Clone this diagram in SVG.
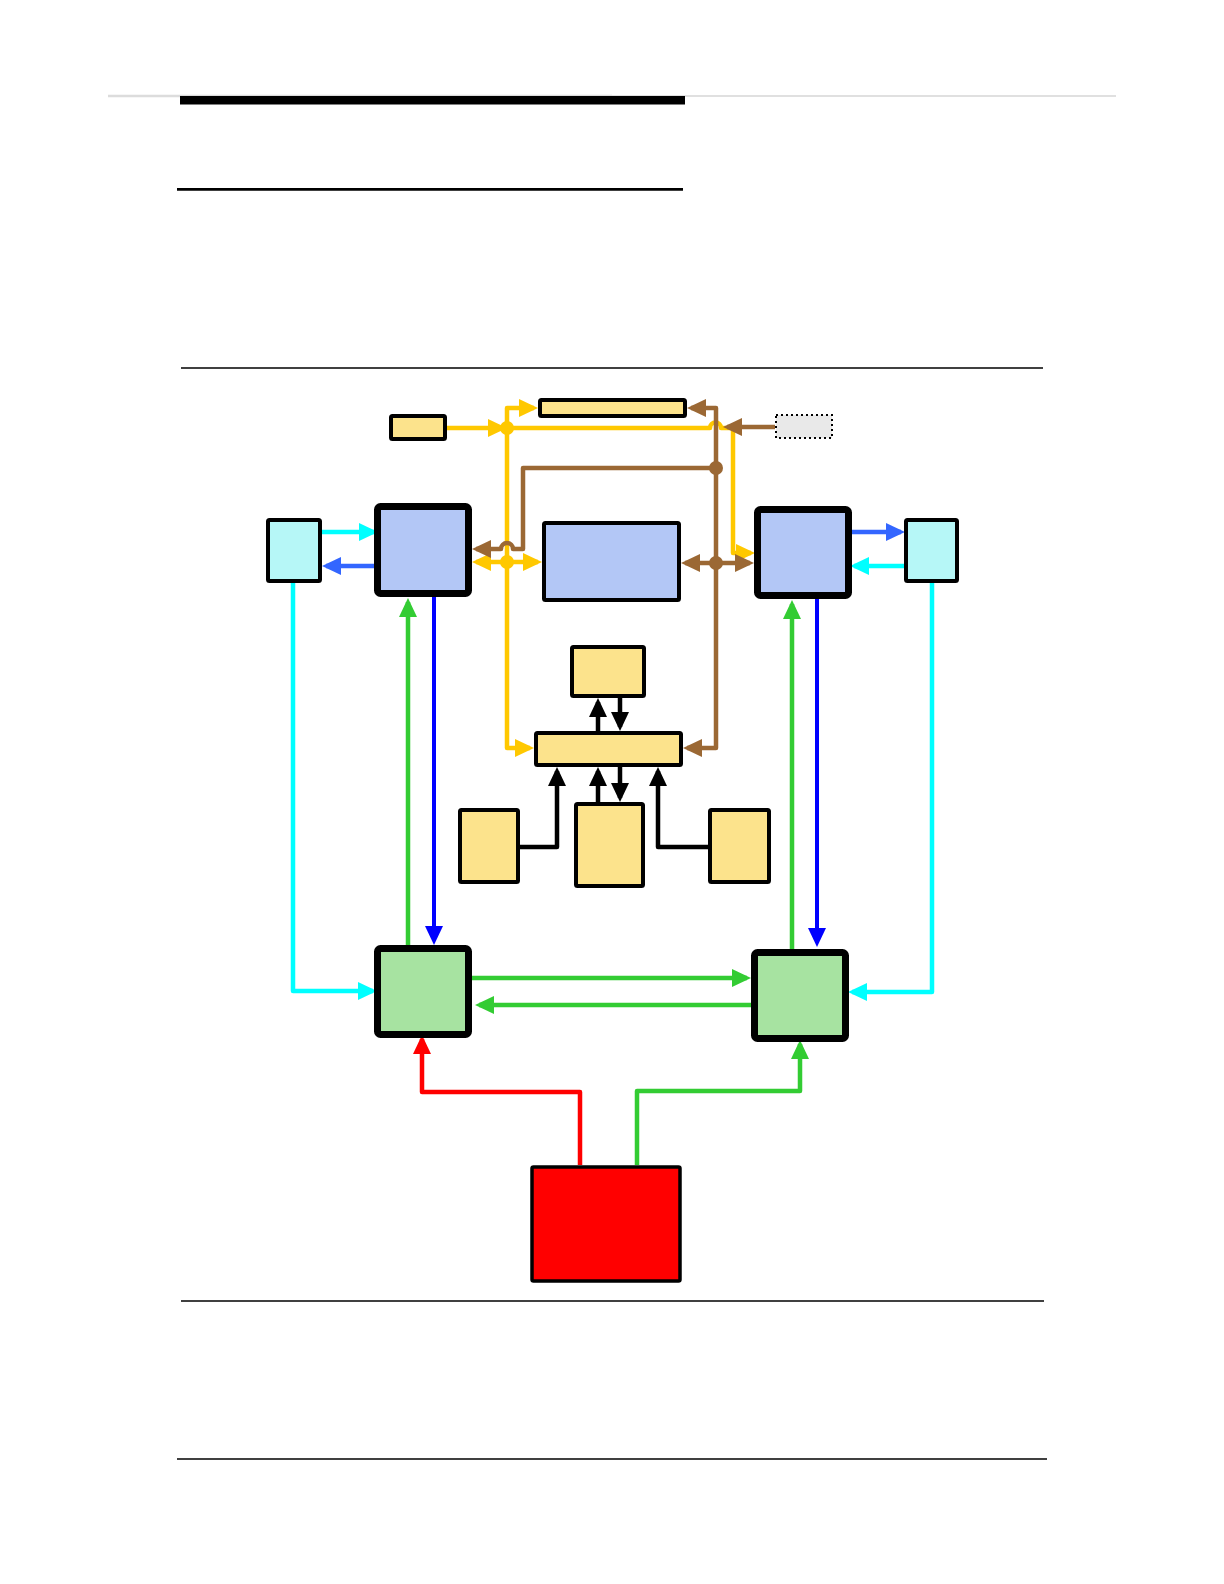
<svg xmlns="http://www.w3.org/2000/svg" width="1224" height="1584" viewBox="0 0 1224 1584">
<style>
.yel{fill:#FCE38C;stroke:#000;stroke-width:4}
.blu{fill:#B3C7F6;stroke:#000}
.cya{fill:#B6F7F7;stroke:#000;stroke-width:4}
.grn{fill:#A7E3A1;stroke:#000;stroke-width:7}
.thick{stroke-width:7}
.c{fill:none;stroke-width:4.5;stroke-linejoin:round}
.cy{stroke:#FFC800}.cb{stroke:#9B6834}.cc{stroke:#00FFFF}.crb{stroke:#3366FF}.cdb{stroke:#0000FF;stroke-width:4}.cg{stroke:#33CC33}.cr{stroke:#FF0000}.ck{stroke:#000}
.rule{stroke:#000;fill:none}
</style>
<defs>
<marker id="aY" viewBox="0 0 19 18" refX="15" refY="9" markerWidth="19" markerHeight="18" markerUnits="userSpaceOnUse" orient="auto-start-reverse"><path d="M0,0 L19,9 L0,18 z" fill="#FFC800"/></marker>
<marker id="aB" viewBox="0 0 19 18" refX="15" refY="9" markerWidth="19" markerHeight="18" markerUnits="userSpaceOnUse" orient="auto-start-reverse"><path d="M0,0 L19,9 L0,18 z" fill="#9B6834"/></marker>
<marker id="aC" viewBox="0 0 19 18" refX="15" refY="9" markerWidth="19" markerHeight="18" markerUnits="userSpaceOnUse" orient="auto-start-reverse"><path d="M0,0 L19,9 L0,18 z" fill="#00FFFF"/></marker>
<marker id="aRB" viewBox="0 0 19 18" refX="15" refY="9" markerWidth="19" markerHeight="18" markerUnits="userSpaceOnUse" orient="auto-start-reverse"><path d="M0,0 L19,9 L0,18 z" fill="#3366FF"/></marker>
<marker id="aDB" viewBox="0 0 19 18" refX="15" refY="9" markerWidth="19" markerHeight="18" markerUnits="userSpaceOnUse" orient="auto-start-reverse"><path d="M0,0 L19,9 L0,18 z" fill="#0000FF"/></marker>
<marker id="aG" viewBox="0 0 19 18" refX="15" refY="9" markerWidth="19" markerHeight="18" markerUnits="userSpaceOnUse" orient="auto-start-reverse"><path d="M0,0 L19,9 L0,18 z" fill="#33CC33"/></marker>
<marker id="aR" viewBox="0 0 19 18" refX="15" refY="9" markerWidth="19" markerHeight="18" markerUnits="userSpaceOnUse" orient="auto-start-reverse"><path d="M0,0 L19,9 L0,18 z" fill="#FF0000"/></marker>
<marker id="aK" viewBox="0 0 19 18" refX="15" refY="9" markerWidth="19" markerHeight="18" markerUnits="userSpaceOnUse" orient="auto-start-reverse"><path d="M0,0 L19,9 L0,18 z" fill="#000"/></marker>
</defs>
<rect width="1224" height="1584" fill="#fff"/>
<g id="page-rules">
<line x1="108" y1="96" x2="612" y2="96" stroke="#dcdcdc" stroke-width="2.5"/>
<line x1="612" y1="96" x2="1116" y2="96" stroke="#d6d6d6" stroke-width="1.5"/>
<rect x="180" y="96" width="505" height="8.5" fill="#000"/>
<line class="rule" x1="177" y1="189.3" x2="683" y2="189.3" stroke-width="2.7"/>
<line class="rule" x1="181" y1="368" x2="1043" y2="368" stroke-width="1.3"/>
<line class="rule" x1="181" y1="1301" x2="1044" y2="1301" stroke-width="1.5"/>
<line class="rule" x1="177" y1="1459" x2="1047" y2="1459" stroke-width="1.5"/>
</g>
<g id="connectors">
<path class="c cy" d="M447,428 L503,428" marker-end="url(#aY)"/>
<path class="c cy" d="M507,428 L507,408 L534,408" marker-end="url(#aY)"/>
<path class="c cy" d="M507,428 L710,428 A5.5,5.5 0 0 1 721,428 L733,428 L733,553 L751,553" marker-end="url(#aY)"/>
<path class="c cy" d="M507,428 L507,748 L530,748" marker-end="url(#aY)"/>
<path class="c cy" d="M476,562 L538,562" marker-start="url(#aY)" marker-end="url(#aY)"/>
<path class="c cb" d="M716,563 L716,408 L691,408" marker-end="url(#aB)"/>
<path class="c cb" d="M716,563 L716,748 L687,748" marker-end="url(#aB)"/>
<path class="c cb" d="M775,427 L727,427" marker-end="url(#aB)"/>
<path class="c cb" d="M716,468 L523,468 L523,549 L513,549 A6,6 0 0 0 501,549 L476,549" marker-end="url(#aB)"/>
<path class="c cb" d="M685,563 L750,563" marker-start="url(#aB)" marker-end="url(#aB)"/>
<circle cx="507" cy="428" r="7" fill="#FFC800"/>
<circle cx="507" cy="562" r="7" fill="#FFC800"/>
<circle cx="716" cy="468" r="7" fill="#9B6834"/>
<circle cx="716" cy="563" r="7" fill="#9B6834"/>
<path class="c cc" d="M322,532 L374,532" marker-end="url(#aC)"/>
<path class="c cc" d="M904,566 L854,566" marker-end="url(#aC)"/>
<path class="c cc" d="M293,583 L293,991 L373,991" marker-end="url(#aC)"/>
<path class="c cc" d="M932,583 L932,992 L852,992" marker-end="url(#aC)"/>
<path class="c crb" d="M378,566 L326,566" marker-end="url(#aRB)"/>
<path class="c crb" d="M848,532 L901,532" marker-end="url(#aRB)"/>
<path class="c cdb" d="M434,597 L434,941" marker-end="url(#aDB)"/>
<path class="c cdb" d="M817,599 L817,943" marker-end="url(#aDB)"/>
<path class="c cg" d="M408,946 L408,602" marker-end="url(#aG)"/>
<path class="c cg" d="M792,949 L792,604" marker-end="url(#aG)"/>
<path class="c cg" d="M472,978 L747,978" marker-end="url(#aG)"/>
<path class="c cg" d="M751,1005 L479,1005" marker-end="url(#aG)"/>
<path class="c cg" d="M637,1165 L637,1091 L800,1091 L800,1044" marker-end="url(#aG)"/>
<path class="c cr" d="M580,1165 L580,1092 L422,1092 L422,1039" marker-end="url(#aR)"/>
<path class="c ck" d="M598,731 L598,702" marker-end="url(#aK)"/>
<path class="c ck" d="M620,698 L620,727" marker-end="url(#aK)"/>
<path class="c ck" d="M598,802 L598,771" marker-end="url(#aK)"/>
<path class="c ck" d="M620,767 L620,798" marker-end="url(#aK)"/>
<path class="c ck" d="M520,847 L557,847 L557,771" marker-end="url(#aK)"/>
<path class="c ck" d="M708,847 L658,847 L658,771" marker-end="url(#aK)"/>
</g>
<g id="node-source"><rect class="yel" x="391" y="416" width="54" height="23" rx="1.5" stroke-width="3.5"/></g>
<g id="node-topbar"><rect class="yel" x="540" y="400" width="145" height="16" rx="1.5" stroke-width="3.5"/></g>
<g id="node-dotted"><rect x="776" y="415" width="56" height="23" fill="#E9E9E9" stroke="#000" stroke-width="2" stroke-dasharray="2,3"/></g>
<g id="node-blue-left"><rect class="blu thick" x="377.5" y="506.5" width="91" height="87" rx="3"/></g>
<g id="node-blue-center"><rect class="blu" x="544" y="523" width="135" height="77" rx="1.5" stroke-width="4"/></g>
<g id="node-blue-right"><rect class="blu thick" x="757.5" y="509.5" width="91" height="86" rx="3"/></g>
<g id="node-cyan-left"><rect class="cya" x="268" y="520" width="52" height="61" rx="1.5"/></g>
<g id="node-cyan-right"><rect class="cya" x="906" y="520" width="51" height="61" rx="1.5"/></g>
<g id="node-yellow-top"><rect class="yel" x="572" y="647" width="72" height="49" rx="1.5"/></g>
<g id="node-yellow-bar"><rect class="yel" x="536" y="733" width="145" height="32" rx="1.5"/></g>
<g id="node-yellow-bl"><rect class="yel" x="460" y="810" width="58" height="72" rx="1.5"/></g>
<g id="node-yellow-bc"><rect class="yel" x="576" y="804" width="67" height="82" rx="1.5"/></g>
<g id="node-yellow-br"><rect class="yel" x="710" y="810" width="59" height="72" rx="1.5"/></g>
<g id="node-green-left"><rect class="grn" x="377.5" y="948.5" width="91" height="86" rx="3"/></g>
<g id="node-green-right"><rect class="grn" x="754.5" y="952.5" width="91" height="86" rx="3"/></g>
<g id="node-red"><rect x="532" y="1167" width="148" height="114" rx="1.5" fill="#FF0000" stroke="#000" stroke-width="3.5"/></g>
</svg>
